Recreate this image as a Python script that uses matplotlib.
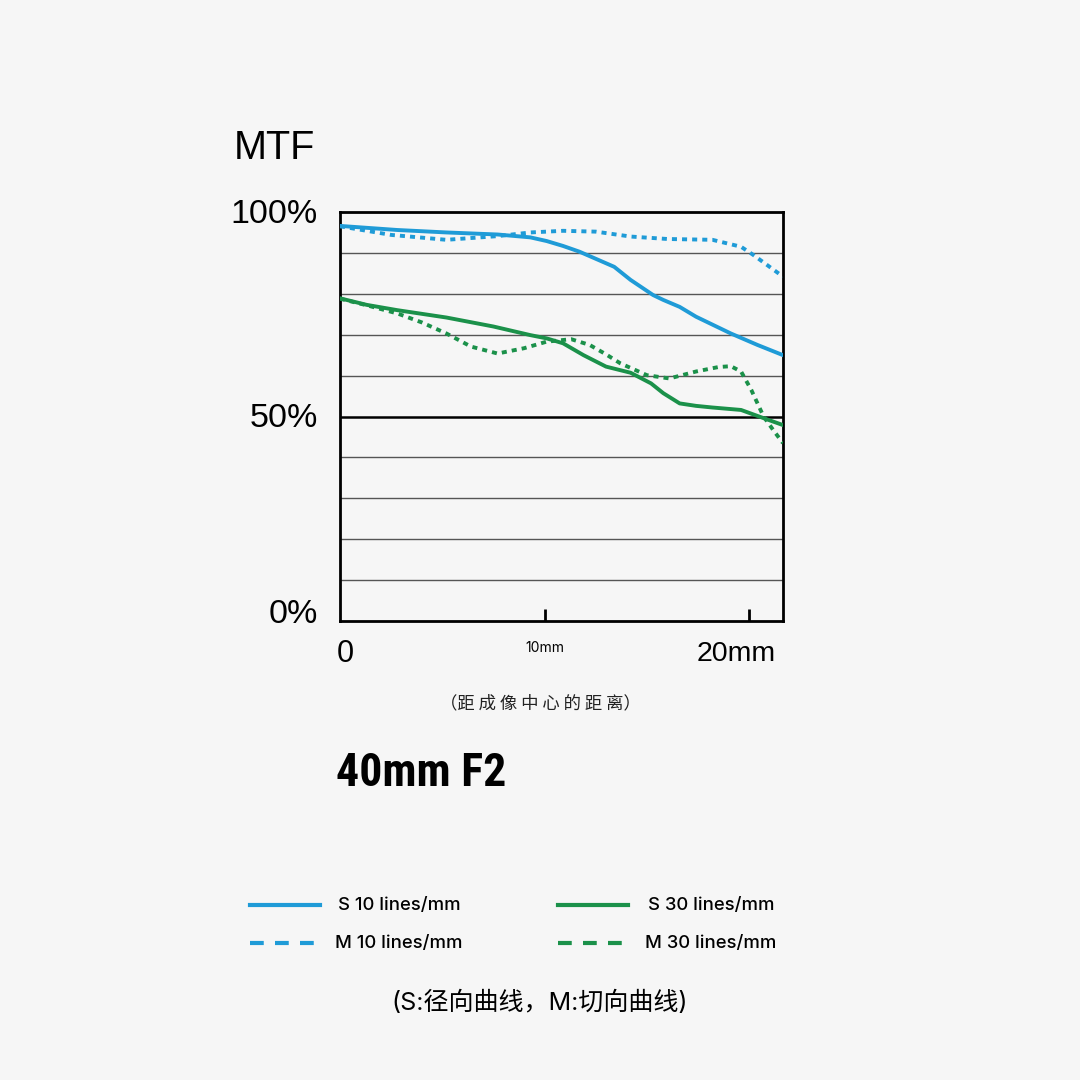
import matplotlib.pyplot as plt
from matplotlib.lines import Line2D

# Data (x in mm from image centre, y in % MTF)
s10_x = [0, 2.8, 5.2, 7.7, 9.3, 10.1, 10.9, 11.7, 13.4, 14.2, 15.3, 15.8, 16.6, 17.4, 19.1, 20.4, 21.65]
s10_y = [96.6, 95.6, 95.0, 94.5, 93.8, 92.9, 91.7, 90.3, 86.6, 83.4, 79.7, 78.5, 76.8, 74.4, 70.3, 67.5, 65.0]

m10_x = [0, 2.5, 5.2, 7.7, 9.3, 10.9, 12.5, 14.2, 16.0, 18.2, 19.6, 20.2, 21.65]
m10_y = [96.5, 94.4, 93.2, 94.1, 95.0, 95.4, 95.2, 94.0, 93.4, 93.2, 91.5, 89.5, 84.2]

s30_x = [0, 1.3, 2.8, 5.2, 7.5, 9.3, 10.1, 10.9, 11.9, 13.0, 14.2, 15.2, 15.8, 16.6, 17.4, 18.2, 19.6, 20.7, 21.65]
s30_y = [78.9, 77.3, 76.0, 74.2, 72.0, 69.9, 69.1, 67.9, 65.0, 62.2, 60.7, 58.1, 55.7, 53.2, 52.6, 52.2, 51.6, 49.6, 47.9]

m30_x = [0, 1.3, 2.8, 4.0, 5.2, 6.4, 7.7, 9.0, 10.1, 11.3, 12.2, 13.0, 13.7, 15.0, 16.1, 17.4, 18.5, 19.1, 19.6, 20.1, 20.7, 21.2, 21.65]
m30_y = [78.8, 77.2, 75.2, 73.0, 70.3, 67.1, 65.4, 66.7, 68.3, 68.9, 67.5, 65.2, 63.0, 60.1, 59.3, 61.0, 62.1, 62.3, 61.0, 56.5, 50.0, 46.5, 43.5]

x_ticks = [10, 20]
grid_levels = [10, 20, 30, 40, 60, 70, 80, 90]

BLUE = "#1f9bd7"
GREEN = "#1b914a"
BG = "#f6f6f6"
HELV = ["Liberation Sans", "DejaVu Sans"]

plt.rcParams['font.family'] = ['Inter', 'Noto Sans CJK SC', 'DejaVu Sans']

fig = plt.figure(figsize=(10.8, 10.8), dpi=100, facecolor=BG)
ax = fig.add_axes([340 / 1080, 1 - 621 / 1080, 443 / 1080, 409 / 1080])
ax.set_facecolor(BG)
ax.set_xlim(0, 21.65)
ax.set_ylim(0, 100)

# horizontal grid
for g in grid_levels:
    ax.axhline(g, color="#555555", lw=1.0, zorder=1)
ax.axhline(50, color="black", lw=1.8, zorder=1)

ax.plot(s10_x, s10_y, color=BLUE, lw=2.8, solid_joinstyle="round", zorder=3)
ax.plot(m10_x, m10_y, color=BLUE, lw=2.8, ls=(0, (1.3, 1.3)), zorder=3)
ax.plot(s30_x, s30_y, color=GREEN, lw=2.8, solid_joinstyle="round", zorder=3)
ax.plot(m30_x, m30_y, color=GREEN, lw=2.8, ls=(0, (1.3, 1.3)), zorder=3)

for sp in ax.spines.values():
    sp.set_linewidth(2.0)
    sp.set_color("black")

ax.set_xticks(x_ticks)
ax.set_xticklabels([])
ax.set_yticks([])
ax.tick_params(axis="x", direction="in", length=9, width=2, color="black")

# axis labels as text
ytr = ax.get_yaxis_transform()
ax.text(-0.05, 99.5, "100%", transform=ytr, ha="right", va="center", fontsize=24.5, family=HELV)
ax.text(-0.05, 49.5, "50%", transform=ytr, ha="right", va="center", fontsize=24.5, family=HELV)
ax.text(-0.05, 1.5, "0%", transform=ytr, ha="right", va="center", fontsize=24.5, family=HELV)
fig.text(234 / 1080, 1 - 148 / 1080, "MTF", ha="left", va="center", fontsize=28.5, family=HELV)

xtr = ax.get_xaxis_transform()
ax.text(-0.15, -0.08, "0", transform=xtr, ha="left", va="center", fontsize=22, family=HELV)
ax.text(10, -0.065, "10mm", transform=xtr, ha="center", va="center", fontsize=10)
ax.text(21.3, -0.08, "20mm", transform=xtr, ha="right", va="center", fontsize=20.5, family=HELV)

fig.text(540 / 1080, 1 - 703 / 1080, "（距 成 像 中 心 的 距 离）", ha="center", va="center",
         fontsize=12.5, family=["Noto Sans CJK SC", "DejaVu Sans"], color="#222222")

fig.text(336 / 1080, 1 - 773 / 1080, "40mm F2", ha="left", va="center", fontsize=33,
         family=["Roboto Condensed", "Barlow Condensed", "Liberation Sans Narrow", "Inter", "DejaVu Sans"],
         weight="bold")

# legend
legend_items = [
    (250, 320, 905, BLUE, "-", 338, "S 10 lines/mm"),
    (250, 320, 943, BLUE, (0, (3.3, 2.7)), 335, "M 10 lines/mm"),
    (558, 628, 905, GREEN, "-", 648, "S 30 lines/mm"),
    (558, 628, 943, GREEN, (0, (3.3, 2.7)), 645, "M 30 lines/mm"),
]
for x0, x1, y, c, ls, tx, label in legend_items:
    fig.add_artist(Line2D([x0 / 1080, x1 / 1080], [1 - y / 1080, 1 - y / 1080],
                          transform=fig.transFigure, color=c, lw=3, ls=ls))
    fig.text(tx / 1080, 1 - y / 1080, label, ha="left", va="center", fontsize=13.3,
             weight="medium")

fig.text(540 / 1080, 1 - 1003 / 1080, "(S:径向曲线，M:切向曲线)", ha="center", va="center",
         fontsize=18, family=["Inter", "Noto Sans CJK SC", "DejaVu Sans"])

fig.savefig("out.png", dpi=100, facecolor=BG)
